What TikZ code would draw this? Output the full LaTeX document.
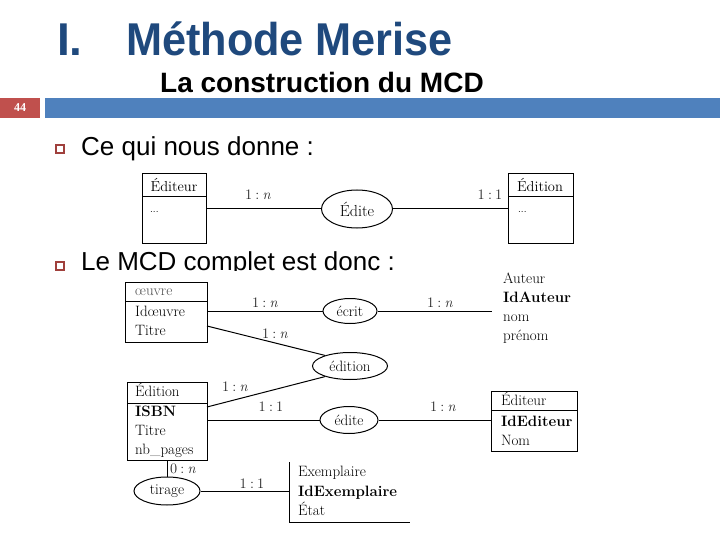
\documentclass[tikz,border=0pt]{standalone}
\usepackage{fontspec}
\newfontfamily\arial{Liberation Sans}
\newfontfamily\tnr{Liberation Serif}
\usetikzlibrary{shapes.geometric}
\definecolor{titleblue}{RGB}{31,73,125}
\definecolor{barblue}{RGB}{79,129,189}
\definecolor{pagered}{RGB}{192,80,77}
\definecolor{bulletred}{RGB}{160,64,60}
\newcommand{\cardn}{1\hspace{0.22em}:\hspace{0.22em}\textit{n}}
\newcommand{\cardu}{1\hspace{0.22em}:\hspace{0.22em}1}
\begin{document}
\begin{tikzpicture}[x=1pt,y=-1pt,
  ent/.style={draw, line width=1pt, rectangle, inner sep=0pt, anchor=north west},
  rel/.style={draw, line width=1pt, ellipse, inner sep=0pt, font=\fontsize{15}{18}\selectfont},
  txt/.style={anchor=base west, inner sep=0pt, font=\fontsize{15}{18}\selectfont},
  btxt/.style={anchor=base west, inner sep=0pt, font=\fontsize{15}{18}\selectfont\bfseries},
  card/.style={anchor=base, inner sep=0pt, text=black!85, font=\fontsize{14.5}{16}\selectfont},
  lnk/.style={line width=1pt},
  bul/.style={draw=bulletred, line width=1.3pt, minimum size=8pt, inner sep=0pt},
  btext/.style={anchor=base west, inner sep=0pt, font=\arial\fontsize{26}{30}\selectfont}]
\useasboundingbox (0,0) rectangle (720,540);
% title
\node[anchor=base west, inner sep=0pt, text=titleblue, font=\arial\bfseries\fontsize{46}{50}\selectfont] (tI) at (57,56) {I.};
\node[anchor=base west, inner sep=0pt, text=titleblue, font=\arial\bfseries\fontsize{46}{50}\selectfont] (tM) at (126,56) {\scalebox{0.94}[1]{Méthode Merise}};
\node[anchor=base west, inner sep=0pt, font=\arial\bfseries\fontsize{28}{32}\selectfont] (sub) at (160,93) {La construction du MCD};
% bar
\fill[pagered] (0,98) rectangle (40,118);
\fill[barblue] (45,98) rectangle (720,118);
\node[text=white, font=\tnr\bfseries\fontsize{12}{13}\selectfont] (pg) at (20,108) {44};
% bullets
\node[bul] (b1) at (60,149) {};
\node[btext] (c1) at (81,156) {Ce qui nous donne :};
\node[bul] (b2) at (60,266) {};
\node[btext] (c2) at (81,270) {Le MCD complet est donc :};
\fill[white] (118,271) rectangle (590,535);
% ---- first small diagram
\node[ent, minimum width=64pt, minimum height=70pt] (ed1) at (142,173) {};
\draw[line width=1pt] (ed1.west |- 0,197) -- (ed1.east |- 0,197);
\node[anchor=base, inner sep=0pt, font=\fontsize{14.5}{17}\selectfont] (ed1t) at (174,192) {Éditeur};
\node[anchor=base west, inner sep=0pt, font=\fontsize{10}{12}\selectfont] (ed1d) at (150,213) {...};
\node[ent, minimum width=65pt, minimum height=70pt] (ed2) at (508,173) {};
\draw[line width=1pt] (ed2.west |- 0,197) -- (ed2.east |- 0,197);
\node[anchor=base, inner sep=0pt, font=\fontsize{14.5}{17}\selectfont] (ed2t) at (540,192) {Édition};
\node[anchor=base west, inner sep=0pt, font=\fontsize{10}{12}\selectfont] (ed2d) at (518,213) {...};
\node[rel, minimum width=71pt, minimum height=38pt, font=\fontsize{16}{18}\selectfont] (edite) at (357,209) {Édite};
\draw[lnk] (ed1.east |- edite.west) -- (edite.west);
\draw[lnk] (edite.east) -- (ed2.west |- edite.east);
\node[card] (c11) at (258,200) {\cardn};
\node[card] (c12) at (490,200) {\cardu};
% ---- main diagram
% oeuvre
\node[ent, minimum width=82pt, minimum height=60pt] (oeu) at (125,282) {};
\draw[line width=1pt] (oeu.west |- 0,301) -- (oeu.east |- 0,301);
\node[txt, text=black!70] (oeu1) at (135,295) {œuvre};
\node[txt] (oeu2) at (135,316) {Idœuvre};
\node[txt] (oeu3) at (135,335) {Titre};
% Auteur
\node[txt] (aut1) at (503,283) {Auteur};
\node[btxt] (aut2) at (503,302) {IdAuteur};
\node[txt] (aut3) at (503,321) {nom};
\node[txt] (aut4) at (503,340) {prénom};
\coordinate (autL) at (492,311);
% ecrit
\node[rel, minimum width=54pt, minimum height=25pt] (ecrit) at (350,311) {écrit};
\draw[lnk] (oeu.east |- ecrit.west) -- (ecrit.west);
\draw[lnk] (ecrit.east) -- (autL);
\node[card] (c21) at (265,307) {\cardn};
\node[card] (c22) at (440,307) {\cardn};
% edition relation
\node[rel, minimum width=75pt, minimum height=27pt] (editn) at (350,366) {édition};
\coordinate (oeuB) at (207,326);
\draw[lnk] (oeuB) -- (editn.157);
\node[card] (c23) at (275,338) {\cardn};
% Edition entity
\node[ent, minimum width=80pt, minimum height=78pt] (edn) at (127,382) {};
\draw[line width=1pt] (edn.west |- 0,403) -- (edn.east |- 0,403);
\node[txt] (edn1) at (135,396) {Édition};
\node[btxt] (edn2) at (135,416) {ISBN};
\node[txt] (edn3) at (135,435) {Titre};
\node[txt] (edn4) at (135,454) {nb\_pages};
\coordinate (ednA) at (207,407);
\draw[lnk] (editn.203) -- (ednA);
\node[card] (c24) at (235,391) {\cardn};
% edite relation
\node[rel, minimum width=58pt, minimum height=27pt] (edite2) at (349,420) {édite};
\node[ent, minimum width=86pt, minimum height=60pt] (edr) at (491,391) {};
\draw[line width=1pt] (edr.west |- 0,410) -- (edr.east |- 0,410);
\node[txt] (edr1) at (501,405) {Éditeur};
\node[btxt] (edr2) at (501,426) {IdEditeur};
\node[txt] (edr3) at (501,445) {Nom};
\draw[lnk] (edn.east |- edite2.west) -- (edite2.west);
\draw[lnk] (edite2.east) -- (edr.west |- edite2.east);
\node[card] (c25) at (271,411) {\cardu};
\node[card] (c26) at (443,411) {\cardn};
% tirage
\node[rel, minimum width=66pt, minimum height=28pt] (tir) at (167,491) {tirage};
\draw[lnk] (edn.south -| tir.north) -- (tir.north);
\node[anchor=base west, inner sep=0pt, text=black!85, font=\fontsize{14.5}{16}\selectfont] (c27) at (170,473) {0\hspace{0.22em}:\hspace{0.22em}\textit{n}};
% Exemplaire
\coordinate (exT) at (289,462);
\coordinate (exC) at (289,522);
\coordinate (exR) at (410,522);
\draw[line width=1pt] (exT) -- (exC) -- (exR);
\node[txt] (ex1) at (298,476) {Exemplaire};
\node[btxt] (ex2) at (298,496) {IdExemplaire};
\node[txt] (ex3) at (298,515) {État};
\draw[lnk] (tir.east) -- (exT |- tir.east);
\node[card] (c28) at (252,488) {\cardu};
\end{tikzpicture}
\end{document}
